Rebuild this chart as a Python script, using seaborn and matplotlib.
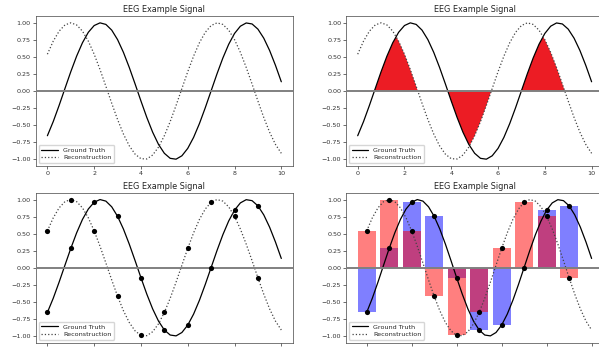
import numpy as np
import matplotlib
matplotlib.use("Agg")
import matplotlib.pyplot as plt
from matplotlib.path import Path
from matplotlib.patches import PathPatch
import seaborn as sns

# ---------------- data ----------------
x_vals = [0.0, 0.25, 0.5, 0.75, 1.0, 1.25, 1.5, 1.75, 2.0, 2.25,
          2.5, 2.75, 3.0, 3.25, 3.5, 3.75, 4.0, 4.25, 4.5, 4.75,
          5.0, 5.25, 5.5, 5.75, 6.0, 6.25, 6.5, 6.75, 7.0, 7.25,
          7.5, 7.75, 8.0, 8.25, 8.5, 8.75, 9.0, 9.25, 9.5, 9.75, 10.0]

ground_truth = [-0.6536, -0.4461, -0.2108, 0.0376, 0.2837, 0.5121, 0.7087, 0.8612, 0.9602, 0.9994,
                0.9766, 0.8930, 0.7539, 0.5679, 0.3466, 0.1038, -0.1455, -0.3857, -0.6020, -0.7808,
                -0.9111, -0.9848, -0.9972, -0.9476, -0.8391, -0.6784, -0.4755, -0.2431, 0.0044, 0.2517,
                0.4833, 0.6849, 0.8439, 0.9504, 0.9978, 0.9832, 0.9074, 0.7753, 0.5949, 0.3776, 0.1367]

reconstruction = [0.5403, 0.7317, 0.8776, 0.9689, 1.0000, 0.9689, 0.8776, 0.7317, 0.5403, 0.3153,
                  0.0707, -0.1782, -0.4161, -0.6282, -0.8011, -0.9243, -0.9900, -0.9941, -0.9365, -0.8206,
                  -0.6536, -0.4461, -0.2108, 0.0376, 0.2837, 0.5121, 0.7087, 0.8612, 0.9602, 0.9994,
                  0.9766, 0.8930, 0.7539, 0.5679, 0.3466, 0.1038, -0.1455, -0.3857, -0.6020, -0.7808, -0.9111]

sample_x = [0, 1, 2, 3, 4, 5, 6, 7, 8, 9]
gt_samples = [-0.654, 0.284, 0.960, 0.754, -0.146, -0.911, -0.839, 0.004, 0.844, 0.907]
rec_samples = [0.540, 1.000, 0.540, -0.416, -0.990, -0.654, 0.284, 0.960, 0.754, -0.146]

title_text = "EEG Example Signal"
gt_label = "Ground Truth"
rec_label = "Reconstruction"
x_ticks = [0, 2, 4, 6, 8, 10]
y_ticks = [-1.0, -0.75, -0.5, -0.25, 0.0, 0.25, 0.5, 0.75, 1.0]

# ---------------- style ----------------
sns.set_style("ticks")
plt.rcParams.update({
    "font.family": ["DejaVu Sans"],
    "axes.edgecolor": "#444444",
    "axes.linewidth": 0.5,
    "xtick.major.width": 0.5,
    "ytick.major.width": 0.5,
    "xtick.major.size": 2.0,
    "ytick.major.size": 2.0,
    "xtick.major.pad": 1.5,
    "ytick.major.pad": 1.5,
    "xtick.color": "#333333",
    "ytick.color": "#333333",
    "xtick.labelsize": 4.6,
    "ytick.labelsize": 4.6,
})

fig = plt.figure(figsize=(5.99, 3.47), dpi=100)

W, H = 599.0, 347.0
ax_w = 257.3 / W
ax_h = 150.0 / H
rects = [
    (35.7 / W, 1 - 166.0 / H, ax_w, ax_h),
    (346.0 / W, 1 - 166.0 / H, ax_w, ax_h),
    (35.7 / W, 1 - 342.7 / H, ax_w, ax_h),
    (346.0 / W, 1 - 342.7 / H, ax_w, ax_h),
]

xa = np.array(x_vals)
ga = np.array(ground_truth)
ra = np.array(reconstruction)

for i, rect in enumerate(rects):
    ax = fig.add_axes(rect)
    if i == 3:
        ax.bar(sample_x, gt_samples, width=0.8, color="blue", alpha=0.5, lw=0, zorder=1)
        ax.bar(sample_x, rec_samples, width=0.8, color="red", alpha=0.5, lw=0, zorder=1)
    if i == 1:
        # overlap of the areas under both curves: area under reconstruction clipped by area under truth
        helpers = [ax.fill_between(xa, 0, ga, where=ga >= 0, interpolate=True),
                   ax.fill_between(xa, 0, ga, where=ga <= 0, interpolate=True)]
        paths = [p for h in helpers for p in h.get_paths()]
        for h in helpers:
            h.remove()
        clip = PathPatch(Path.make_compound_path(*paths), transform=ax.transData)
        fills = [ax.fill_between(xa, 0, ra, where=ra >= 0, interpolate=True,
                                 color="#ec1c24", lw=0, zorder=1),
                 ax.fill_between(xa, 0, ra, where=ra <= 0, interpolate=True,
                                 color="#ec1c24", lw=0, zorder=1)]
        for f in fills:
            f.set_clip_path(clip)
    sns.lineplot(x=xa, y=ga, ax=ax, color="black", lw=0.9, label=gt_label, sort=False, zorder=2)
    sns.lineplot(x=xa, y=ra, ax=ax, color="#444444", lw=0.9, linestyle=":", label=rec_label,
                 sort=False, zorder=2)
    if i >= 2:
        sns.scatterplot(x=sample_x, y=gt_samples, ax=ax, color="black", s=14, edgecolor="black",
                        linewidth=0, zorder=4, legend=False)
        sns.scatterplot(x=sample_x, y=rec_samples, ax=ax, color="black", s=14, edgecolor="black",
                        linewidth=0, zorder=4, legend=False)
    ax.axhline(0, color="gray", lw=1.4, zorder=3)
    ax.set_xticks(x_ticks)
    if i >= 2:
        ax.set_xticklabels([])
    ax.set_yticks(y_ticks)
    ax.set_yticklabels([f"{v:.2f}".replace("-", "\u2212") for v in y_ticks])
    ax.set_title(title_text, fontsize=5.9, pad=3, color="#222222")
    ax.legend(loc="lower left", fontsize=4.6, handlelength=2.6, borderpad=0.4,
              labelspacing=0.3, handletextpad=0.8, borderaxespad=0.5, frameon=True,
              edgecolor="#cccccc", fancybox=True)
    for s in ax.spines.values():
        s.set_visible(True)

fig.savefig("out.png", dpi=100)
